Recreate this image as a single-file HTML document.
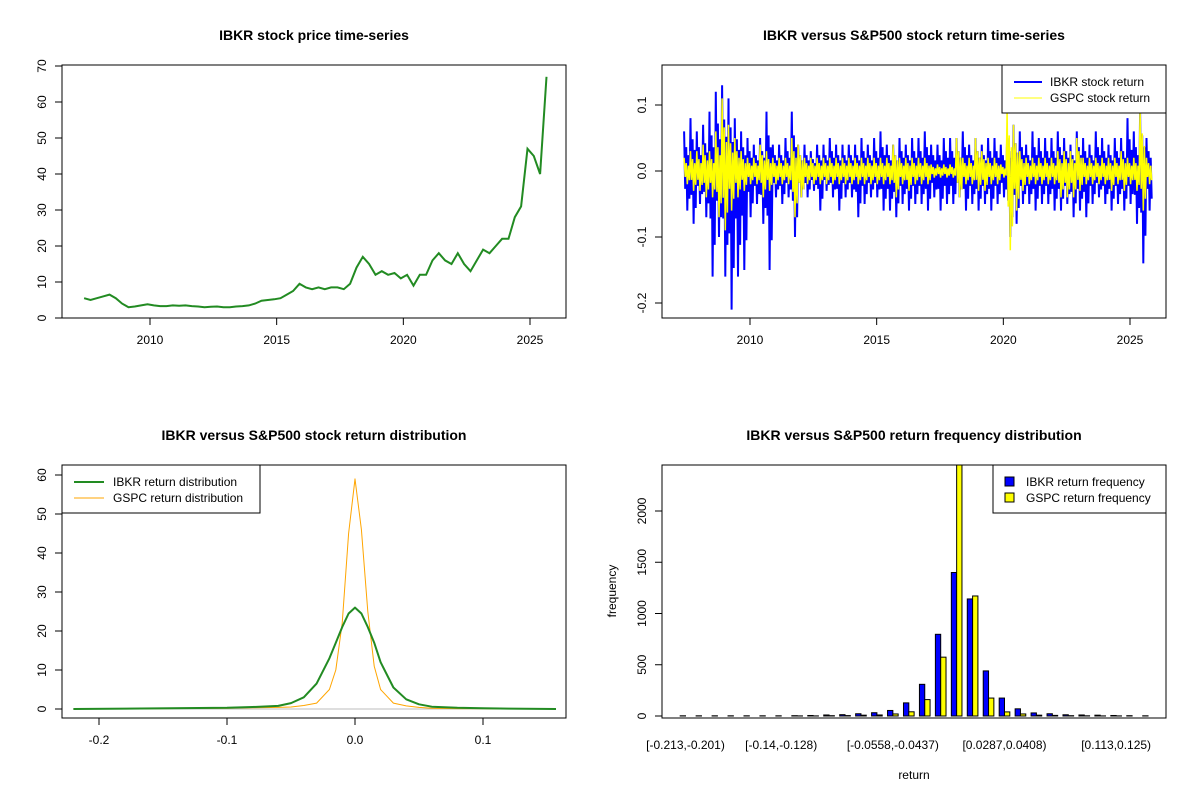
<!DOCTYPE html>
<html><head><meta charset="utf-8"><style>
html,body{margin:0;padding:0;background:#fff;}
svg{display:block;font-family:"Liberation Sans",Arial,sans-serif;}
</style></head><body>
<svg id="c" width="1200" height="800" xmlns="http://www.w3.org/2000/svg"></svg>
<script>
// ---- Panel 1 data: IBKR price (quarterly samples from 2007.4) ----
const priceStart = 2007.4;
const priceStep = 0.25;
const priceValues = [5.5,5,5.5, 6,6.5,5.5,4, 3,3.2,3.5,3.8, 3.5,3.3,3.3,3.5, 3.4,3.5,3.3,3.2, 3.0,3.1,3.2,3.0, 3.0,3.2,3.3,3.5, 4.0,4.8,5.0,5.2, 5.5,6.5,7.5,9.5, 8.5,8.0,8.5,8.0, 8.5,8.5,8.0,9.5, 14,17,15,12, 13,12,12.5,11, 12,9,12,12, 16,18,16,15, 18,15,13,16, 19,18,20,22, 22,28,31,47, 45,40,67];
const yearTicks = [2010,2015,2020,2025];
const priceTicks = [0,10,20,30,40,50,60,70];
// ---- Panel 2 data: return highs / lows per quarter ----
const ibkrHi = [0.06,0.08,0.06, 0.07,0.09,0.12,0.13, 0.11,0.08,0.06,0.05, 0.04,0.05,0.09,0.04, 0.04,0.05,0.09,0.04, 0.04,0.03,0.04,0.04, 0.05,0.04,0.04,0.04, 0.04,0.05,0.04,0.05, 0.06,0.04,0.04,0.05, 0.04,0.05,0.05,0.06, 0.04,0.04,0.05,0.05, 0.05,0.06,0.04,0.05, 0.04,0.05,0.05,0.04, 0.05,0.07,0.06,0.04, 0.06,0.05,0.05,0.05, 0.06,0.05,0.04,0.06, 0.05,0.04,0.06,0.05, 0.04,0.05,0.05,0.08, 0.06,0.09,0.05];
const ibkrLo = [-0.06,-0.08,-0.05, -0.07,-0.16,-0.10,-0.16, -0.21,-0.16,-0.15,-0.07, -0.05,-0.08,-0.15,-0.04, -0.05,-0.04,-0.10,-0.04, -0.04,-0.03,-0.06,-0.03, -0.04,-0.06,-0.04,-0.04, -0.07,-0.05,-0.04,-0.04, -0.06,-0.06,-0.07,-0.05, -0.06,-0.05,-0.05,-0.06, -0.04,-0.06,-0.05,-0.05, -0.04,-0.06,-0.05,-0.06, -0.05,-0.06,-0.05,-0.04, -0.10,-0.08,-0.05,-0.05, -0.06,-0.05,-0.05,-0.06, -0.06,-0.05,-0.07,-0.06, -0.07,-0.05,-0.04,-0.05, -0.06,-0.05,-0.06,-0.05, -0.08,-0.14,-0.06];
const gspcHi = [0.02,0.03,0.03, 0.04,0.03,0.06,0.11, 0.07,0.05,0.03,0.02, 0.02,0.04,0.03,0.02, 0.02,0.02,0.05,0.04, 0.02,0.02,0.02,0.02, 0.02,0.02,0.02,0.02, 0.02,0.02,0.02,0.02, 0.02,0.02,0.04,0.02, 0.02,0.02,0.02,0.02, 0.01,0.01,0.01,0.01, 0.05,0.02,0.02,0.05, 0.03,0.02,0.02,0.01, 0.09,0.07,0.03,0.02, 0.02,0.02,0.02,0.02, 0.03,0.03,0.03,0.05, 0.02,0.02,0.02,0.02, 0.02,0.02,0.03,0.02, 0.02,0.095,0.02];
const gspcLo = [-0.02,-0.03,-0.03, -0.04,-0.04,-0.07,-0.09, -0.06,-0.04,-0.03,-0.02, -0.02,-0.04,-0.03,-0.02, -0.02,-0.02,-0.07,-0.04, -0.02,-0.02,-0.02,-0.02, -0.02,-0.02,-0.02,-0.02, -0.02,-0.02,-0.02,-0.02, -0.02,-0.02,-0.04,-0.02, -0.03,-0.02,-0.02,-0.02, -0.01,-0.01,-0.01,-0.01, -0.04,-0.02,-0.02,-0.03, -0.03,-0.02,-0.02,-0.01, -0.12,-0.06,-0.03,-0.02, -0.02,-0.02,-0.02,-0.02, -0.04,-0.04,-0.04,-0.03, -0.02,-0.02,-0.02,-0.02, -0.03,-0.02,-0.03,-0.02, -0.03,-0.06,-0.02];
const returnTicks = [-0.2,-0.1,0.0,0.1];
// ---- Panel 3 data: densities ----
const densX = [-0.22,-0.1,-0.08,-0.06,-0.05,-0.04,-0.03,-0.02,-0.015,-0.01,-0.005,0,0.005,0.01,0.015,0.02,0.03,0.04,0.05,0.06,0.08,0.1,0.12,0.157];
const ibkrDens = [0,0.3,0.5,0.8,1.5,3,6.5,13,17,21,24.5,26,24.5,21,17,12,5.5,2.5,1.2,0.6,0.3,0.2,0.1,0];
const gspcDens = [0,0.2,0.3,0.4,0.5,0.9,1.5,5,10,22,45,59,46,25,11,5,1.5,0.8,0.4,0.2,0.1,0.1,0,0];
const densXTicks = [-0.2,-0.1,0.0,0.1];
const densYTicks = [0,10,20,30,40,50,60];
// ---- Panel 4 data: histogram ----
const ibkrFreq = [2,2,2,2,2,2,2,3,5,10,13,22,32,54,128,309,797,1400,1142,440,175,70,30,22,12,10,8,5,3,2];
const gspcFreq = [0,0,0,0,0,0,0,1,1,3,4,8,10,20,41,160,574,2600,1171,175,40,20,8,6,3,2,1,1,0,0];
const binLabels = {0:"[-0.213,-0.201)",6:"[-0.14,-0.128)",13:"[-0.0558,-0.0437)",20:"[0.0287,0.0408)",27:"[0.113,0.125)"};
const freqTicks = [0,500,1000,1500,2000];

const svg = document.getElementById('c');
const NS = 'http://www.w3.org/2000/svg';
function mk(tag, attrs, parent){
  const e = document.createElementNS(NS, tag);
  for (const k in attrs) e.setAttribute(k, attrs[k]);
  (parent||svg).appendChild(e);
  return e;
}
function txt(s, x, y, size, extra, parent){
  const t = mk('text', Object.assign({x:x, y:y, 'font-size':size, fill:'#000', 'text-anchor':'middle'}, extra||{}), parent);
  t.textContent = s;
  return t;
}
function lin(a,b,c,d){ return v => c + (v-a)*(d-c)/(b-a); }

// ================= Panel 1 =================
{
  const g = mk('g', {});
  
  
  const X = lin(2010, 2025, 150, 530), Y = lin(0, 70, 318, 66);
  let d = '';
  priceValues.forEach((v,i)=>{ d += (i?'L':'M') + X(priceStart+i*priceStep).toFixed(1) + ',' + Y(v).toFixed(1); });
  const p = mk('path', {d:d, fill:'none', stroke:'#228B22', 'stroke-width':2}, g);
  
  
  mk('rect', {x:62, y:65, width:504, height:253, fill:'none', stroke:'#000'}, g);
  yearTicks.forEach(t=>{ const x=X(t); mk('line',{x1:x,x2:x,y1:318,y2:325,stroke:'#000'},g); txt(String(t), x, 344, 12, {}, g); });
  priceTicks.forEach(t=>{ const y=Y(t); mk('line',{x1:55,x2:62,y1:y,y2:y,stroke:'#000'},g); txt(String(t), 46, y, 12, {transform:`rotate(-90 46 ${y})`}, g); });
  const tt = txt('IBKR stock price time-series', 314, 40, 14, {'font-weight':'bold'}, g);
  
  
}
// ================= Panel 2 =================
{
  const g = mk('g', {});
  
  
  const X = lin(2010, 2025, 750, 1130), Y = lin(0, 0.1, 171, 105);
  mk('clipPath', {id:'cp2'}, g).appendChild(Object.assign(document.createElementNS(NS,'rect')));
  g.querySelector('#cp2 rect').setAttribute('x',662); g.querySelector('#cp2 rect').setAttribute('y',65);
  g.querySelector('#cp2 rect').setAttribute('width',504); g.querySelector('#cp2 rect').setAttribute('height',253);
  function zig(hi, lo, color, w, name){
    let d = '';
    const n = hi.length;
    for (let i=0;i<n;i++){
      const t0 = priceStart + i*priceStep;
      const seq = [hi[i], lo[i]*0.45, hi[i]*0.6, lo[i], hi[i]*0.4, lo[i]*0.7];
      seq.forEach((v,j)=>{ d += (d?'L':'M') + X(t0 + j*priceStep/6).toFixed(1) + ',' + Y(v).toFixed(1); });
    }
    const p = mk('path', {d:d, fill:'none', stroke:color, 'stroke-width':w, 'clip-path':'url(#cp2)'}, g);
    
    
  }
  zig(ibkrHi, ibkrLo, '#0000FF', 2, 'ibkr-return-line');
  zig(gspcHi, gspcLo, '#FFFF00', 1.5, 'gspc-return-line');
  mk('rect', {x:662, y:65, width:504, height:253, fill:'none', stroke:'#000'}, g);
  yearTicks.forEach(t=>{ const x=X(t); mk('line',{x1:x,x2:x,y1:318,y2:325,stroke:'#000'},g); txt(String(t), x, 344, 12, {}, g); });
  returnTicks.forEach(t=>{ const y=Y(t); mk('line',{x1:655,x2:662,y1:y,y2:y,stroke:'#000'},g); txt(t.toFixed(1), 646, y, 12, {transform:`rotate(-90 646 ${y})`}, g); });
  txt('IBKR versus S&P500 stock return time-series', 914, 40, 14, {'font-weight':'bold'}, g);
  const lg = mk('g', {}, g);
  
  
  mk('rect', {x:1002, y:65, width:164, height:48, fill:'#fff', stroke:'#000'}, lg);
  mk('line', {x1:1014, x2:1042, y1:82, y2:82, stroke:'#0000FF', 'stroke-width':2}, lg);
  mk('line', {x1:1014, x2:1042, y1:98, y2:98, stroke:'#FFFF00', 'stroke-width':1}, lg);
  txt('IBKR stock return', 1050, 86, 12, {'text-anchor':'start'}, lg);
  txt('GSPC stock return', 1050, 102, 12, {'text-anchor':'start'}, lg);
}
// ================= Panel 3 =================
{
  const g = mk('g', {});
  
  
  const X = lin(0, 0.1, 355, 483), Y = lin(0, 60, 709, 475);
  mk('line', {x1:X(-0.22), x2:X(0.157), y1:Y(0), y2:Y(0), stroke:'#bebebe'}, g);
  function curve(vals, color, w, name){
    let d='';
    densX.forEach((x,i)=>{ d += (i?'L':'M') + X(x).toFixed(1) + ',' + Y(vals[i]).toFixed(1); });
    const p = mk('path', {d:d, fill:'none', stroke:color, 'stroke-width':w, 'stroke-linejoin':'round'}, g);
    
    
  }
  curve(gspcDens, '#FFA500', 1, 'gspc-density-line');
  curve(ibkrDens, '#228B22', 2, 'ibkr-density-line');
  mk('rect', {x:62, y:465, width:504, height:253, fill:'none', stroke:'#000'}, g);
  densXTicks.forEach(t=>{ const x=X(t); mk('line',{x1:x,x2:x,y1:718,y2:725,stroke:'#000'},g); txt(t.toFixed(1), x, 744, 12, {}, g); });
  densYTicks.forEach(t=>{ const y=Y(t); mk('line',{x1:55,x2:62,y1:y,y2:y,stroke:'#000'},g); txt(String(t), 46, y, 12, {transform:`rotate(-90 46 ${y})`}, g); });
  txt('IBKR versus S&P500 stock return distribution', 314, 440, 14, {'font-weight':'bold'}, g);
  const lg = mk('g', {}, g);
  
  
  mk('rect', {x:62, y:465, width:198, height:48, fill:'#fff', stroke:'#000'}, lg);
  mk('line', {x1:74, x2:104, y1:482, y2:482, stroke:'#228B22', 'stroke-width':2}, lg);
  mk('line', {x1:74, x2:104, y1:498, y2:498, stroke:'#FFA500', 'stroke-width':1}, lg);
  txt('IBKR return distribution', 113, 486, 12, {'text-anchor':'start'}, lg);
  txt('GSPC return distribution', 113, 502, 12, {'text-anchor':'start'}, lg);
}
// ================= Panel 4 =================
{
  const g = mk('g', {});
  
  
  const Y = lin(0, 2000, 716, 511);
  const step = 15.95, x0 = 685.5, bw = step/3;
  const cp = mk('clipPath', {id:'cp4'}, g);
  mk('rect', {x:662, y:465, width:504, height:253}, cp);
  ibkrFreq.forEach((v,i)=>{
    const cx = x0 + i*step;
    const r1 = mk('rect', {x:cx-bw, y:Y(v), width:bw, height:Math.max(0,Y(0)-Y(v)), fill:'#0000FF', stroke:'#000', 'stroke-width':1, 'clip-path':'url(#cp4)'}, g);
    
    
    const w = gspcFreq[i];
    const r2 = mk('rect', {x:cx, y:Y(w), width:bw, height:Math.max(0,Y(0)-Y(w)), fill:'#FFFF00', stroke:'#000', 'stroke-width':1, 'clip-path':'url(#cp4)'}, g);
    
    
    if (binLabels[i] !== undefined) txt(binLabels[i], cx, 749, 12, {}, g);
  });
  mk('rect', {x:662, y:465, width:504, height:253, fill:'none', stroke:'#000'}, g);
  freqTicks.forEach(t=>{ const y=Y(t); mk('line',{x1:655,x2:662,y1:y,y2:y,stroke:'#000'},g); txt(String(t), 646, y, 12, {transform:`rotate(-90 646 ${y})`}, g); });
  txt('IBKR versus S&P500 return frequency distribution', 914, 440, 14, {'font-weight':'bold'}, g);
  txt('return', 914, 779, 12, {}, g);
  txt('frequency', 616, 591, 12, {transform:'rotate(-90 616 591)'}, g);
  const lg = mk('g', {}, g);
  
  
  mk('rect', {x:993, y:465, width:173, height:48, fill:'#fff', stroke:'#000'}, lg);
  mk('rect', {x:1005, y:477, width:9, height:9, fill:'#0000FF', stroke:'#000'}, lg);
  mk('rect', {x:1005, y:493, width:9, height:9, fill:'#FFFF00', stroke:'#000'}, lg);
  txt('IBKR return frequency', 1026, 486, 12, {'text-anchor':'start'}, lg);
  txt('GSPC return frequency', 1026, 502, 12, {'text-anchor':'start'}, lg);
}
</script>
</body></html>
